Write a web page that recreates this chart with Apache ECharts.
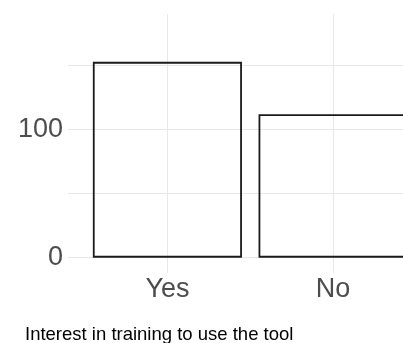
<!DOCTYPE html>
<html>
<head>
<meta charset="utf-8">
<script src="https://cdn.jsdelivr.net/npm/echarts@6/dist/echarts.min.js"></script>
<style>
  html, body { margin: 0; padding: 0; background: #fff; }
  #chart { width: 403px; height: 343px; }
</style>
</head>
<body>
<div id="chart"></div>
<script>
// 数据
var categories = ['Yes', 'No'];
var counts = [153, 112];
var yTicks = [0, 50, 100, 150];
var yLabels = [0, 100];
var xTitle = 'Interest in training to use the tool';

var fontFamily = '"Liberation Sans", Arial, Helvetica, sans-serif';

// 柱子放在 1, 2 位置（离散轴），右侧被裁掉
var barData = [];
for (var i = 0; i < categories.length; i++) {
	barData.push([i + 1, counts[i]]);
}
var xPos = [];
for (var j = 0; j < categories.length; j++) {
	xPos.push(j + 1);
}

var myChart = echarts.init(document.getElementById('chart'));

var option = {
	animation: false,
	title: {
		text: xTitle,
		left: 25,
		top: 325,
		padding: 0,
		textStyle: {
			fontFamily: fontFamily,
			fontSize: 18.5,
			fontWeight: 'normal',
			color: '#000'
		}
	},
	grid: {
		left: 68,
		right: 0,
		top: 14,
		bottom: 70,
		containLabel: false
	},
	xAxis: {
		type: 'value',
		min: 0.4,
		max: 2.422,
		axisLine: { show: false },
		axisTick: { show: false, customValues: xPos },
		splitLine: {
			show: true,
			lineStyle: { color: '#e8e8e8', width: 1 }
		},
		axisLabel: {
			customValues: xPos,
			margin: 3,
			fontFamily: fontFamily,
			fontSize: 27,
			color: '#4d4d4d',
			formatter: function(v) {
				return categories[Math.round(v) - 1] || '';
			}
		}
	},
	yAxis: {
		type: 'value',
		min: -12,
		max: 190.4,
		axisLine: { show: false },
		axisTick: { show: false, customValues: yTicks },
		splitLine: {
			show: true,
			lineStyle: { color: '#e8e8e8', width: 1 }
		},
		axisLabel: {
			customValues: yLabels,
			margin: 5,
			fontFamily: fontFamily,
			fontSize: 27,
			color: '#4d4d4d'
		}
	},
	series: [
		{
			type: 'bar',
			data: barData,
			barWidth: '90%',
			itemStyle: {
				color: 'rgba(0,0,0,0)',
				borderColor: '#1a1a1a',
				borderWidth: 1.8
			}
		}
	]
};

myChart.setOption(option);
</script>
</body>
</html>
